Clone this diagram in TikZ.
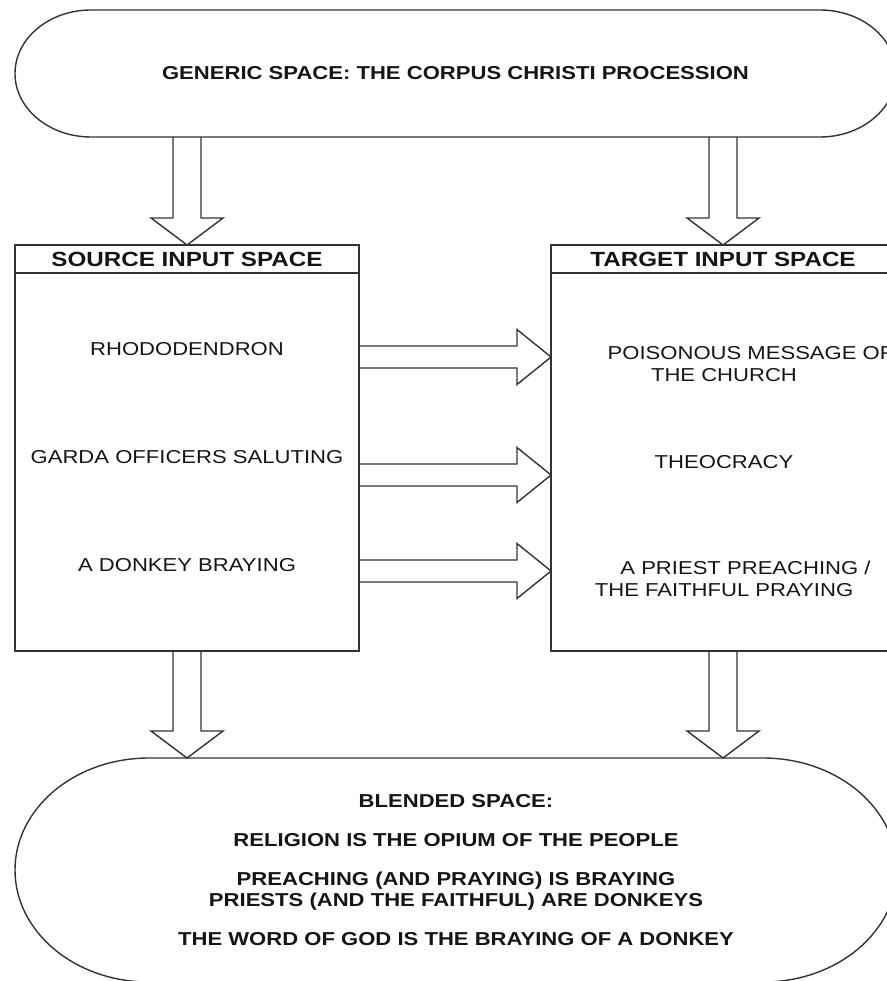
\documentclass[tikz,border=0pt]{standalone}
\usepackage{fontspec}
\setmainfont{Liberation Sans}[FakeStretch=1.18]
\usetikzlibrary{calc, positioning}
\definecolor{edgegray}{HTML}{333333}
\definecolor{inkblack}{HTML}{151515}
\tikzset{
  spaceline/.style = {draw=edgegray, line width=1.4pt, line join=miter},
  pilltext/.style  = {font=\bfseries\fontsize{18.7}{21}\selectfont, text=inkblack,
                      align=center, inner sep=0pt, outer sep=0pt},
  boxhead/.style   = {draw=edgegray, line width=1.4pt, minimum width=344pt,
                      minimum height=28pt, inner sep=0pt, outer sep=0pt,
                      font=\bfseries\fontsize{20.5}{24}\selectfont, text=inkblack},
  boxbody/.style   = {draw=edgegray, line width=1.4pt, minimum width=344pt,
                      minimum height=378pt, inner sep=0pt, outer sep=0pt},
  spaceitem/.style = {font=\fontsize{18.7}{22}\selectfont, text=inkblack,
                      align=center, inner sep=0pt, outer sep=0pt},
  blockarr/.style  = {draw=edgegray, line width=1.4pt, line join=miter},
}

\begin{document}
\begin{tikzpicture}[x=1pt, y=1pt]
  \useasboundingbox (0,0) rectangle (886,-981);
  % generic space
  \node[pilltext, minimum width=881pt, minimum height=127pt] (gen) at (455.5,-73.5)
    {GENERIC SPACE: THE CORPUS CHRISTI PROCESSION};
  \draw[spaceline] ([xshift=76pt]gen.north west) -- ([xshift=-76pt]gen.north east)
    arc[start angle=90, end angle=-90, x radius=76pt, y radius=63.5pt]
    -- ([xshift=76pt]gen.south west)
    arc[start angle=270, end angle=90, x radius=76pt, y radius=63.5pt] -- cycle;
  % input spaces
  \node[boxhead, anchor=north] (srchead) at (187,-245) {SOURCE INPUT SPACE};
  \node[boxbody, below=0pt of srchead] (srcbody) {};
  \node[boxhead, anchor=north] (tgthead) at (723,-245) {TARGET INPUT SPACE};
  \node[boxbody, below=0pt of tgthead] (tgtbody) {};
  \node[spaceitem, anchor=base] (rhodo)  at (187,-355.7) {RHODODENDRON};
  \node[spaceitem, anchor=base] (garda)  at (187,-463.7) {GARDA OFFICERS SALUTING};
  \node[spaceitem, anchor=base] (donkey) at (187,-571.7) {A DONKEY BRAYING};
  \node[spaceitem, anchor=north] (poison) at (724,-346.3)
    {\hspace*{53pt}POISONOUS MESSAGE OF\\THE CHURCH};
  \node[spaceitem, anchor=base] (theo) at (724,-468.7) {THEOCRACY};
  \node[spaceitem, anchor=north] (priest) at (724,-561.3)
    {\hspace*{43pt}A PRIEST PREACHING /\\THE FAITHFUL PRAYING};
  % blended space
  \node[pilltext, minimum width=882pt, minimum height=224pt] (blend) at (456,-870)
    {BLENDED SPACE:\\[18pt]
     RELIGION IS THE OPIUM OF THE PEOPLE\\[18pt]
     PREACHING (AND PRAYING) IS BRAYING\\
     PRIESTS (AND THE FAITHFUL) ARE DONKEYS\\[18pt]
     THE WORD OF GOD IS THE BRAYING OF A DONKEY};
  \draw[spaceline] ([xshift=134pt]blend.north west) -- ([xshift=-134pt]blend.north east)
    arc[start angle=90, end angle=-90, x radius=134pt, y radius=112pt]
    -- ([xshift=134pt]blend.south west)
    arc[start angle=270, end angle=90, x radius=134pt, y radius=112pt] -- cycle;
  % block arrows down
  \foreach \t in {srchead, tgthead}{
    \draw[blockarr] ($(\t.north |- gen.south)+(-14,0)$) -- ($(\t.north)+(-14,27)$)
      -- ++(-22,0) -- (\t.north) -- ++(36,27) -- ++(-22,0)
      -- ($(\t.north |- gen.south)+(14,0)$);}
  \foreach \s in {srcbody, tgtbody}{
    \draw[blockarr] ($(\s.south)+(-14,0)$) -- ($(\s.south |- blend.north)+(-14,27)$)
      -- ++(-22,0) -- (\s.south |- blend.north) -- ++(36,27) -- ++(-22,0)
      -- ($(\s.south)+(14,0)$);}
  % mapping arrows
  \foreach \dy [count=\i] in {84,202,298}{
    \coordinate (tip\i) at ($(tgtbody.north west)+(0,-\dy)$);
    \draw[blockarr] ($(srcbody.east |- tip\i)+(0,11)$) -- ($(tip\i)+(-34,11)$)
      -- ++(0,16.5) -- (tip\i) -- ++(-34,-27.5) -- ++(0,16.5)
      -- ($(srcbody.east |- tip\i)+(0,-11)$);}
\end{tikzpicture}
\end{document}
